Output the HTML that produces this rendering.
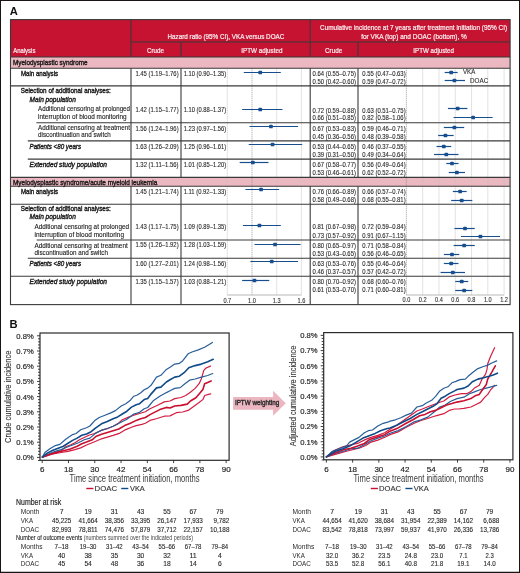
<!DOCTYPE html>
<html><head><meta charset="utf-8"><style>
html,body{margin:0;padding:0;background:#fff;}
svg{display:block;font-family:"Liberation Sans", sans-serif;will-change:transform;}
</style></head><body>
<svg width="520" height="573" viewBox="0 0 520 573">
<rect x="0.00" y="0.00" width="520.00" height="573.00" fill="#fff"/>
<line x1="0.50" y1="0.00" x2="0.50" y2="573.00" stroke="#1a1515" stroke-width="1"/>
<line x1="0.00" y1="0.50" x2="520.00" y2="0.50" stroke="#1a1515" stroke-width="1"/>
<line x1="519.50" y1="0.00" x2="519.50" y2="573.00" stroke="#1a1515" stroke-width="1"/>
<line x1="0.00" y1="572.50" x2="520.00" y2="572.50" stroke="#1a1515" stroke-width="1.4"/>
<text x="9.80" y="14.70" font-size="11.2" fill="#111" font-weight="bold">A</text>
<text x="9.40" y="328.00" font-size="11.2" fill="#111" font-weight="bold">B</text>
<rect x="10.50" y="19.60" width="499.60" height="37.40" fill="#c51331"/>
<rect x="10.50" y="57.00" width="499.60" height="11.30" fill="#ebb7c0"/>
<rect x="10.50" y="177.40" width="499.60" height="8.90" fill="#ebb7c0"/>
<line x1="227.31" y1="68.30" x2="227.31" y2="295.00" stroke="#c4c4c4" stroke-width="0.8" stroke-dasharray="1.2,0.8"/>
<line x1="276.69" y1="68.30" x2="276.69" y2="295.00" stroke="#c4c4c4" stroke-width="0.8" stroke-dasharray="1.2,0.8"/>
<line x1="301.38" y1="68.30" x2="301.38" y2="295.00" stroke="#c4c4c4" stroke-width="0.8" stroke-dasharray="1.2,0.8"/>
<line x1="252.00" y1="68.30" x2="252.00" y2="295.00" stroke="#8a8a8a" stroke-width="0.8" stroke-dasharray="1,1"/>
<line x1="422.68" y1="68.30" x2="422.68" y2="295.00" stroke="#c4c4c4" stroke-width="0.8" stroke-dasharray="1.2,0.8"/>
<line x1="438.96" y1="68.30" x2="438.96" y2="295.00" stroke="#c4c4c4" stroke-width="0.8" stroke-dasharray="1.2,0.8"/>
<line x1="455.24" y1="68.30" x2="455.24" y2="295.00" stroke="#c4c4c4" stroke-width="0.8" stroke-dasharray="1.2,0.8"/>
<line x1="471.52" y1="68.30" x2="471.52" y2="295.00" stroke="#c4c4c4" stroke-width="0.8" stroke-dasharray="1.2,0.8"/>
<line x1="487.80" y1="68.30" x2="487.80" y2="295.00" stroke="#c4c4c4" stroke-width="0.8" stroke-dasharray="1.2,0.8"/>
<line x1="504.08" y1="68.30" x2="504.08" y2="295.00" stroke="#c4c4c4" stroke-width="0.8" stroke-dasharray="1.2,0.8"/>
<line x1="406.40" y1="68.30" x2="406.40" y2="295.00" stroke="#8a8a8a" stroke-width="0.8" stroke-dasharray="1,1"/>
<line x1="227.31" y1="295.00" x2="301.38" y2="295.00" stroke="#b0b0b0" stroke-width="0.9"/>
<line x1="406.40" y1="295.00" x2="504.08" y2="295.00" stroke="#b0b0b0" stroke-width="0.9"/>
<text x="227.31" y="302.60" font-size="6.8" fill="#333" stroke="#333" stroke-width="0.12" text-anchor="middle" textLength="7.80" lengthAdjust="spacingAndGlyphs">0.7</text>
<text x="252.00" y="302.60" font-size="6.8" fill="#333" stroke="#333" stroke-width="0.12" text-anchor="middle" textLength="7.80" lengthAdjust="spacingAndGlyphs">1.0</text>
<text x="276.69" y="302.60" font-size="6.8" fill="#333" stroke="#333" stroke-width="0.12" text-anchor="middle" textLength="7.80" lengthAdjust="spacingAndGlyphs">1.3</text>
<text x="301.38" y="302.60" font-size="6.8" fill="#333" stroke="#333" stroke-width="0.12" text-anchor="middle" textLength="7.80" lengthAdjust="spacingAndGlyphs">1.6</text>
<text x="406.40" y="302.40" font-size="6.8" fill="#333" stroke="#333" stroke-width="0.12" text-anchor="middle" textLength="7.80" lengthAdjust="spacingAndGlyphs">0.0</text>
<text x="422.68" y="302.40" font-size="6.8" fill="#333" stroke="#333" stroke-width="0.12" text-anchor="middle" textLength="7.80" lengthAdjust="spacingAndGlyphs">0.2</text>
<text x="438.96" y="302.40" font-size="6.8" fill="#333" stroke="#333" stroke-width="0.12" text-anchor="middle" textLength="7.80" lengthAdjust="spacingAndGlyphs">0.4</text>
<text x="455.24" y="302.40" font-size="6.8" fill="#333" stroke="#333" stroke-width="0.12" text-anchor="middle" textLength="7.80" lengthAdjust="spacingAndGlyphs">0.6</text>
<text x="471.52" y="302.40" font-size="6.8" fill="#333" stroke="#333" stroke-width="0.12" text-anchor="middle" textLength="7.80" lengthAdjust="spacingAndGlyphs">0.8</text>
<text x="487.80" y="302.40" font-size="6.8" fill="#333" stroke="#333" stroke-width="0.12" text-anchor="middle" textLength="7.80" lengthAdjust="spacingAndGlyphs">1.0</text>
<text x="504.08" y="302.40" font-size="6.8" fill="#333" stroke="#333" stroke-width="0.12" text-anchor="middle" textLength="7.80" lengthAdjust="spacingAndGlyphs">1.2</text>
<line x1="131.00" y1="19.60" x2="131.00" y2="57.00" stroke="#3a3a3a" stroke-width="1.1"/>
<line x1="310.20" y1="19.60" x2="310.20" y2="57.00" stroke="#3a3a3a" stroke-width="1.1"/>
<line x1="131.00" y1="42.00" x2="510.10" y2="42.00" stroke="#3a3a3a" stroke-width="1.1"/>
<line x1="181.00" y1="42.00" x2="181.00" y2="57.00" stroke="#3a3a3a" stroke-width="1.1"/>
<line x1="358.00" y1="42.00" x2="358.00" y2="57.00" stroke="#3a3a3a" stroke-width="1.1"/>
<line x1="10.50" y1="57.00" x2="510.10" y2="57.00" stroke="#3a3a3a" stroke-width="1.1"/>
<line x1="10.50" y1="68.30" x2="510.10" y2="68.30" stroke="#3a3a3a" stroke-width="1.1"/>
<line x1="10.50" y1="177.40" x2="510.10" y2="177.40" stroke="#3a3a3a" stroke-width="1.1"/>
<line x1="10.50" y1="186.30" x2="510.10" y2="186.30" stroke="#3a3a3a" stroke-width="1.1"/>
<line x1="131.00" y1="68.30" x2="131.00" y2="177.40" stroke="#3a3a3a" stroke-width="1.1"/>
<line x1="131.00" y1="186.30" x2="131.00" y2="304.60" stroke="#3a3a3a" stroke-width="1.1"/>
<line x1="181.00" y1="68.30" x2="181.00" y2="177.40" stroke="#3a3a3a" stroke-width="1.1"/>
<line x1="181.00" y1="186.30" x2="181.00" y2="304.60" stroke="#3a3a3a" stroke-width="1.1"/>
<line x1="310.20" y1="68.30" x2="310.20" y2="177.40" stroke="#3a3a3a" stroke-width="1.1"/>
<line x1="310.20" y1="186.30" x2="310.20" y2="304.60" stroke="#3a3a3a" stroke-width="1.1"/>
<line x1="358.00" y1="68.30" x2="358.00" y2="177.40" stroke="#3a3a3a" stroke-width="1.1"/>
<line x1="358.00" y1="186.30" x2="358.00" y2="304.60" stroke="#3a3a3a" stroke-width="1.1"/>
<line x1="10.50" y1="85.90" x2="510.10" y2="85.90" stroke="#3a3a3a" stroke-width="1.1"/>
<line x1="36.40" y1="122.70" x2="510.10" y2="122.70" stroke="#3a3a3a" stroke-width="1.1"/>
<line x1="27.80" y1="140.90" x2="510.10" y2="140.90" stroke="#3a3a3a" stroke-width="1.1"/>
<line x1="27.80" y1="159.10" x2="510.10" y2="159.10" stroke="#3a3a3a" stroke-width="1.1"/>
<line x1="10.50" y1="204.30" x2="510.10" y2="204.30" stroke="#3a3a3a" stroke-width="1.1"/>
<line x1="36.70" y1="240.00" x2="510.10" y2="240.00" stroke="#3a3a3a" stroke-width="1.1"/>
<line x1="27.80" y1="258.30" x2="510.10" y2="258.30" stroke="#3a3a3a" stroke-width="1.1"/>
<line x1="10.50" y1="276.30" x2="510.10" y2="276.30" stroke="#3a3a3a" stroke-width="1.1"/>
<rect x="10.50" y="19.60" width="499.60" height="285.00" fill="none" stroke="#3a3a3a" stroke-width="1.1"/>
<text x="13.20" y="52.60" font-size="7.5" fill="#fbeef0" stroke="#fbeef0" stroke-width="0.22" textLength="22.20" lengthAdjust="spacingAndGlyphs">Analysis</text>
<text x="167.50" y="38.70" font-size="7.5" fill="#fbeef0" stroke="#fbeef0" stroke-width="0.22" textLength="116.80" lengthAdjust="spacingAndGlyphs">Hazard ratio (95% CI), VKA versus DOAC</text>
<text x="147.00" y="52.70" font-size="7.5" fill="#fbeef0" stroke="#fbeef0" stroke-width="0.22" textLength="17.00" lengthAdjust="spacingAndGlyphs">Crude</text>
<text x="241.30" y="52.70" font-size="7.5" fill="#fbeef0" stroke="#fbeef0" stroke-width="0.22" textLength="41.10" lengthAdjust="spacingAndGlyphs">IPTW adjusted</text>
<text x="320.00" y="29.70" font-size="7.5" fill="#fbeef0" stroke="#fbeef0" stroke-width="0.22" textLength="187.10" lengthAdjust="spacingAndGlyphs">Cumulative incidence at 7 years after treatment initiation (95% CI)</text>
<text x="361.20" y="38.90" font-size="7.5" fill="#fbeef0" stroke="#fbeef0" stroke-width="0.22" textLength="105.70" lengthAdjust="spacingAndGlyphs">for VKA (top) and DOAC (bottom), %</text>
<text x="325.00" y="52.70" font-size="7.5" fill="#fbeef0" stroke="#fbeef0" stroke-width="0.22" textLength="17.20" lengthAdjust="spacingAndGlyphs">Crude</text>
<text x="413.30" y="52.70" font-size="7.5" fill="#fbeef0" stroke="#fbeef0" stroke-width="0.22" textLength="40.60" lengthAdjust="spacingAndGlyphs">IPTW adjusted</text>
<text x="13.00" y="64.90" font-size="7.5" fill="#1a1a1a" stroke="#1a1a1a" stroke-width="0.4" textLength="74.50" lengthAdjust="spacingAndGlyphs">Myelodysplastic syndrome</text>
<text x="13.00" y="184.70" font-size="7.5" fill="#1a1a1a" stroke="#1a1a1a" stroke-width="0.4" textLength="144.30" lengthAdjust="spacingAndGlyphs">Myelodysplastic syndrome/acute myeloid leukemia</text>
<text x="20.90" y="76.20" font-size="7.5" fill="#1a1a1a" stroke="#1a1a1a" stroke-width="0.4" textLength="37.20" lengthAdjust="spacingAndGlyphs">Main analysis</text>
<text x="20.70" y="93.40" font-size="7.5" fill="#1a1a1a" stroke="#1a1a1a" stroke-width="0.4" textLength="90.10" lengthAdjust="spacingAndGlyphs">Selection of additional analyses:</text>
<text x="29.60" y="102.10" font-size="7.5" fill="#1a1a1a" stroke="#1a1a1a" stroke-width="0.4" font-style="italic" textLength="46.20" lengthAdjust="spacingAndGlyphs">Main population</text>
<text x="38.10" y="110.90" font-size="7.5" fill="#1a1a1a" stroke="#1a1a1a" stroke-width="0.12" textLength="91.90" lengthAdjust="spacingAndGlyphs">Additional censoring at prolonged</text>
<text x="38.10" y="119.20" font-size="7.5" fill="#1a1a1a" stroke="#1a1a1a" stroke-width="0.12" textLength="88.50" lengthAdjust="spacingAndGlyphs">interruption of blood monitoring</text>
<text x="38.10" y="129.60" font-size="7.5" fill="#1a1a1a" stroke="#1a1a1a" stroke-width="0.12" textLength="91.90" lengthAdjust="spacingAndGlyphs">Additional censoring at treatment</text>
<text x="38.10" y="136.60" font-size="7.5" fill="#1a1a1a" stroke="#1a1a1a" stroke-width="0.12" textLength="72.70" lengthAdjust="spacingAndGlyphs">discontinuation and switch</text>
<text x="29.50" y="148.80" font-size="7.5" fill="#1a1a1a" stroke="#1a1a1a" stroke-width="0.4" font-style="italic" textLength="51.50" lengthAdjust="spacingAndGlyphs">Patients &lt;80 years</text>
<text x="29.50" y="166.70" font-size="7.5" fill="#1a1a1a" stroke="#1a1a1a" stroke-width="0.4" font-style="italic" textLength="77.50" lengthAdjust="spacingAndGlyphs">Extended study population</text>
<text x="20.90" y="194.20" font-size="7.5" fill="#1a1a1a" stroke="#1a1a1a" stroke-width="0.4" textLength="37.20" lengthAdjust="spacingAndGlyphs">Main analysis</text>
<text x="20.70" y="211.00" font-size="7.5" fill="#1a1a1a" stroke="#1a1a1a" stroke-width="0.4" textLength="90.10" lengthAdjust="spacingAndGlyphs">Selection of additional analyses:</text>
<text x="29.60" y="219.10" font-size="7.5" fill="#1a1a1a" stroke="#1a1a1a" stroke-width="0.4" font-style="italic" textLength="46.20" lengthAdjust="spacingAndGlyphs">Main population</text>
<text x="34.50" y="229.00" font-size="7.5" fill="#1a1a1a" stroke="#1a1a1a" stroke-width="0.12" textLength="94.50" lengthAdjust="spacingAndGlyphs">Additional censoring at prolonged</text>
<text x="34.50" y="237.00" font-size="7.5" fill="#1a1a1a" stroke="#1a1a1a" stroke-width="0.12" textLength="89.50" lengthAdjust="spacingAndGlyphs">interruption of blood monitoring</text>
<text x="34.50" y="247.80" font-size="7.5" fill="#1a1a1a" stroke="#1a1a1a" stroke-width="0.12" textLength="93.20" lengthAdjust="spacingAndGlyphs">Additional censoring at treatment</text>
<text x="34.50" y="254.90" font-size="7.5" fill="#1a1a1a" stroke="#1a1a1a" stroke-width="0.12" textLength="73.40" lengthAdjust="spacingAndGlyphs">discontinuation and switch</text>
<text x="29.50" y="265.60" font-size="7.5" fill="#1a1a1a" stroke="#1a1a1a" stroke-width="0.4" font-style="italic" textLength="51.50" lengthAdjust="spacingAndGlyphs">Patients &lt;80 years</text>
<text x="29.50" y="284.00" font-size="7.5" fill="#1a1a1a" stroke="#1a1a1a" stroke-width="0.4" font-style="italic" textLength="77.50" lengthAdjust="spacingAndGlyphs">Extended study population</text>
<text x="135.40" y="76.40" font-size="7.5" fill="#2a2a2a" stroke="#2a2a2a" stroke-width="0.12" textLength="43.20" lengthAdjust="spacingAndGlyphs">1.45 (1.19–1.76)</text>
<text x="183.70" y="76.40" font-size="7.5" fill="#2a2a2a" stroke="#2a2a2a" stroke-width="0.12" textLength="42.40" lengthAdjust="spacingAndGlyphs">1.10 (0.90–1.35)</text>
<text x="312.60" y="75.80" font-size="7.5" fill="#2a2a2a" stroke="#2a2a2a" stroke-width="0.12" textLength="43.30" lengthAdjust="spacingAndGlyphs">0.64 (0.55–0.75)</text>
<text x="312.60" y="83.80" font-size="7.5" fill="#2a2a2a" stroke="#2a2a2a" stroke-width="0.12" textLength="43.30" lengthAdjust="spacingAndGlyphs">0.50 (0.42–0.60)</text>
<text x="362.30" y="75.80" font-size="7.5" fill="#2a2a2a" stroke="#2a2a2a" stroke-width="0.12" textLength="43.30" lengthAdjust="spacingAndGlyphs">0.55 (0.47–0.63)</text>
<text x="362.30" y="83.80" font-size="7.5" fill="#2a2a2a" stroke="#2a2a2a" stroke-width="0.12" textLength="43.30" lengthAdjust="spacingAndGlyphs">0.59 (0.47–0.72)</text>
<line x1="243.77" y1="72.50" x2="280.81" y2="72.50" stroke="#174f8e" stroke-width="1.2"/>
<rect x="258.38" y="70.65" width="3.70" height="3.70" fill="#174f8e" rx="0.9"/>
<line x1="444.66" y1="72.50" x2="457.68" y2="72.50" stroke="#174f8e" stroke-width="1.2"/>
<rect x="449.32" y="70.65" width="3.70" height="3.70" fill="#174f8e" rx="0.9"/>
<line x1="444.66" y1="80.50" x2="465.01" y2="80.50" stroke="#174f8e" stroke-width="1.2"/>
<rect x="452.58" y="78.65" width="3.70" height="3.70" fill="#174f8e" rx="0.9"/>
<text x="135.40" y="111.70" font-size="7.5" fill="#2a2a2a" stroke="#2a2a2a" stroke-width="0.12" textLength="43.20" lengthAdjust="spacingAndGlyphs">1.42 (1.15–1.77)</text>
<text x="183.70" y="111.70" font-size="7.5" fill="#2a2a2a" stroke="#2a2a2a" stroke-width="0.12" textLength="42.40" lengthAdjust="spacingAndGlyphs">1.10 (0.88–1.37)</text>
<text x="312.60" y="112.60" font-size="7.5" fill="#2a2a2a" stroke="#2a2a2a" stroke-width="0.12" textLength="43.30" lengthAdjust="spacingAndGlyphs">0.72 (0.59–0.88)</text>
<text x="312.60" y="120.20" font-size="7.5" fill="#2a2a2a" stroke="#2a2a2a" stroke-width="0.12" textLength="43.30" lengthAdjust="spacingAndGlyphs">0.66 (0.51–0.85)</text>
<text x="362.30" y="112.60" font-size="7.5" fill="#2a2a2a" stroke="#2a2a2a" stroke-width="0.12" textLength="43.30" lengthAdjust="spacingAndGlyphs">0.63 (0.51–0.75)</text>
<text x="362.30" y="120.20" font-size="7.5" fill="#2a2a2a" stroke="#2a2a2a" stroke-width="0.12" textLength="43.30" lengthAdjust="spacingAndGlyphs">0.82 (0.58–1.06)</text>
<line x1="242.12" y1="109.50" x2="282.45" y2="109.50" stroke="#174f8e" stroke-width="1.2"/>
<rect x="258.38" y="107.65" width="3.70" height="3.70" fill="#174f8e" rx="0.9"/>
<line x1="447.91" y1="108.50" x2="467.45" y2="108.50" stroke="#174f8e" stroke-width="1.2"/>
<rect x="455.83" y="106.65" width="3.70" height="3.70" fill="#174f8e" rx="0.9"/>
<line x1="453.61" y1="117.50" x2="492.68" y2="117.50" stroke="#174f8e" stroke-width="1.2"/>
<rect x="471.30" y="115.65" width="3.70" height="3.70" fill="#174f8e" rx="0.9"/>
<text x="135.40" y="130.90" font-size="7.5" fill="#2a2a2a" stroke="#2a2a2a" stroke-width="0.12" textLength="43.20" lengthAdjust="spacingAndGlyphs">1.56 (1.24–1.96)</text>
<text x="183.70" y="130.90" font-size="7.5" fill="#2a2a2a" stroke="#2a2a2a" stroke-width="0.12" textLength="42.40" lengthAdjust="spacingAndGlyphs">1.23 (0.97–1.56)</text>
<text x="312.60" y="130.90" font-size="7.5" fill="#2a2a2a" stroke="#2a2a2a" stroke-width="0.12" textLength="43.30" lengthAdjust="spacingAndGlyphs">0.67 (0.53–0.83)</text>
<text x="312.60" y="138.70" font-size="7.5" fill="#2a2a2a" stroke="#2a2a2a" stroke-width="0.12" textLength="43.30" lengthAdjust="spacingAndGlyphs">0.45 (0.36–0.56)</text>
<text x="362.30" y="130.90" font-size="7.5" fill="#2a2a2a" stroke="#2a2a2a" stroke-width="0.12" textLength="43.30" lengthAdjust="spacingAndGlyphs">0.59 (0.46–0.71)</text>
<text x="362.30" y="138.70" font-size="7.5" fill="#2a2a2a" stroke="#2a2a2a" stroke-width="0.12" textLength="43.30" lengthAdjust="spacingAndGlyphs">0.48 (0.39–0.58)</text>
<line x1="249.53" y1="126.50" x2="298.09" y2="126.50" stroke="#174f8e" stroke-width="1.2"/>
<rect x="269.08" y="124.65" width="3.70" height="3.70" fill="#174f8e" rx="0.9"/>
<line x1="443.84" y1="127.50" x2="464.19" y2="127.50" stroke="#174f8e" stroke-width="1.2"/>
<rect x="452.58" y="125.65" width="3.70" height="3.70" fill="#174f8e" rx="0.9"/>
<line x1="438.15" y1="135.50" x2="453.61" y2="135.50" stroke="#174f8e" stroke-width="1.2"/>
<rect x="443.62" y="133.65" width="3.70" height="3.70" fill="#174f8e" rx="0.9"/>
<text x="135.40" y="148.80" font-size="7.5" fill="#2a2a2a" stroke="#2a2a2a" stroke-width="0.12" textLength="43.20" lengthAdjust="spacingAndGlyphs">1.63 (1.26–2.09)</text>
<text x="183.70" y="148.80" font-size="7.5" fill="#2a2a2a" stroke="#2a2a2a" stroke-width="0.12" textLength="42.40" lengthAdjust="spacingAndGlyphs">1.25 (0.96–1.61)</text>
<text x="312.60" y="148.80" font-size="7.5" fill="#2a2a2a" stroke="#2a2a2a" stroke-width="0.12" textLength="43.30" lengthAdjust="spacingAndGlyphs">0.53 (0.44–0.65)</text>
<text x="312.60" y="156.70" font-size="7.5" fill="#2a2a2a" stroke="#2a2a2a" stroke-width="0.12" textLength="43.30" lengthAdjust="spacingAndGlyphs">0.39 (0.31–0.50)</text>
<text x="362.30" y="148.80" font-size="7.5" fill="#2a2a2a" stroke="#2a2a2a" stroke-width="0.12" textLength="43.30" lengthAdjust="spacingAndGlyphs">0.46 (0.37–0.55)</text>
<text x="362.30" y="156.70" font-size="7.5" fill="#2a2a2a" stroke="#2a2a2a" stroke-width="0.12" textLength="43.30" lengthAdjust="spacingAndGlyphs">0.49 (0.34–0.64)</text>
<line x1="248.71" y1="144.50" x2="302.20" y2="144.50" stroke="#174f8e" stroke-width="1.2"/>
<rect x="270.72" y="142.65" width="3.70" height="3.70" fill="#174f8e" rx="0.9"/>
<line x1="436.52" y1="146.50" x2="451.17" y2="146.50" stroke="#174f8e" stroke-width="1.2"/>
<rect x="441.99" y="144.65" width="3.70" height="3.70" fill="#174f8e" rx="0.9"/>
<line x1="434.08" y1="154.50" x2="458.50" y2="154.50" stroke="#174f8e" stroke-width="1.2"/>
<rect x="444.44" y="152.65" width="3.70" height="3.70" fill="#174f8e" rx="0.9"/>
<text x="135.40" y="167.30" font-size="7.5" fill="#2a2a2a" stroke="#2a2a2a" stroke-width="0.12" textLength="43.20" lengthAdjust="spacingAndGlyphs">1.32 (1.11–1.56)</text>
<text x="183.70" y="167.30" font-size="7.5" fill="#2a2a2a" stroke="#2a2a2a" stroke-width="0.12" textLength="42.40" lengthAdjust="spacingAndGlyphs">1.01 (0.85–1.20)</text>
<text x="312.60" y="166.80" font-size="7.5" fill="#2a2a2a" stroke="#2a2a2a" stroke-width="0.12" textLength="43.30" lengthAdjust="spacingAndGlyphs">0.67 (0.58–0.77)</text>
<text x="312.60" y="174.70" font-size="7.5" fill="#2a2a2a" stroke="#2a2a2a" stroke-width="0.12" textLength="43.30" lengthAdjust="spacingAndGlyphs">0.53 (0.46–0.61)</text>
<text x="362.30" y="166.80" font-size="7.5" fill="#2a2a2a" stroke="#2a2a2a" stroke-width="0.12" textLength="43.30" lengthAdjust="spacingAndGlyphs">0.56 (0.49–0.64)</text>
<text x="362.30" y="174.70" font-size="7.5" fill="#2a2a2a" stroke="#2a2a2a" stroke-width="0.12" textLength="43.30" lengthAdjust="spacingAndGlyphs">0.62 (0.52–0.72)</text>
<line x1="239.66" y1="162.50" x2="268.46" y2="162.50" stroke="#174f8e" stroke-width="1.2"/>
<rect x="250.97" y="160.65" width="3.70" height="3.70" fill="#174f8e" rx="0.9"/>
<line x1="446.29" y1="163.50" x2="458.50" y2="163.50" stroke="#174f8e" stroke-width="1.2"/>
<rect x="450.13" y="161.65" width="3.70" height="3.70" fill="#174f8e" rx="0.9"/>
<line x1="448.73" y1="172.50" x2="465.01" y2="172.50" stroke="#174f8e" stroke-width="1.2"/>
<rect x="455.02" y="170.65" width="3.70" height="3.70" fill="#174f8e" rx="0.9"/>
<text x="135.40" y="194.40" font-size="7.5" fill="#2a2a2a" stroke="#2a2a2a" stroke-width="0.12" textLength="43.20" lengthAdjust="spacingAndGlyphs">1.45 (1.21–1.74)</text>
<text x="183.70" y="194.40" font-size="7.5" fill="#2a2a2a" stroke="#2a2a2a" stroke-width="0.12" textLength="42.40" lengthAdjust="spacingAndGlyphs">1.11 (0.92–1.33)</text>
<text x="312.60" y="193.80" font-size="7.5" fill="#2a2a2a" stroke="#2a2a2a" stroke-width="0.12" textLength="43.30" lengthAdjust="spacingAndGlyphs">0.76 (0.66–0.89)</text>
<text x="312.60" y="201.80" font-size="7.5" fill="#2a2a2a" stroke="#2a2a2a" stroke-width="0.12" textLength="43.30" lengthAdjust="spacingAndGlyphs">0.58 (0.49–0.68)</text>
<text x="362.30" y="193.80" font-size="7.5" fill="#2a2a2a" stroke="#2a2a2a" stroke-width="0.12" textLength="43.30" lengthAdjust="spacingAndGlyphs">0.66 (0.57–0.74)</text>
<text x="362.30" y="201.80" font-size="7.5" fill="#2a2a2a" stroke="#2a2a2a" stroke-width="0.12" textLength="43.30" lengthAdjust="spacingAndGlyphs">0.68 (0.55–0.81)</text>
<line x1="245.42" y1="189.50" x2="279.16" y2="189.50" stroke="#174f8e" stroke-width="1.2"/>
<rect x="259.20" y="187.65" width="3.70" height="3.70" fill="#174f8e" rx="0.9"/>
<line x1="452.80" y1="191.50" x2="466.64" y2="191.50" stroke="#174f8e" stroke-width="1.2"/>
<rect x="458.27" y="189.65" width="3.70" height="3.70" fill="#174f8e" rx="0.9"/>
<line x1="451.17" y1="200.50" x2="472.33" y2="200.50" stroke="#174f8e" stroke-width="1.2"/>
<rect x="459.90" y="198.65" width="3.70" height="3.70" fill="#174f8e" rx="0.9"/>
<text x="135.40" y="229.00" font-size="7.5" fill="#2a2a2a" stroke="#2a2a2a" stroke-width="0.12" textLength="43.20" lengthAdjust="spacingAndGlyphs">1.43 (1.17–1.75)</text>
<text x="183.70" y="229.00" font-size="7.5" fill="#2a2a2a" stroke="#2a2a2a" stroke-width="0.12" textLength="42.40" lengthAdjust="spacingAndGlyphs">1.09 (0.89–1.35)</text>
<text x="312.60" y="229.20" font-size="7.5" fill="#2a2a2a" stroke="#2a2a2a" stroke-width="0.12" textLength="43.30" lengthAdjust="spacingAndGlyphs">0.81 (0.67–0.98)</text>
<text x="312.60" y="237.80" font-size="7.5" fill="#2a2a2a" stroke="#2a2a2a" stroke-width="0.12" textLength="43.30" lengthAdjust="spacingAndGlyphs">0.73 (0.57–0.92)</text>
<text x="362.30" y="229.20" font-size="7.5" fill="#2a2a2a" stroke="#2a2a2a" stroke-width="0.12" textLength="43.30" lengthAdjust="spacingAndGlyphs">0.72 (0.59–0.84)</text>
<text x="362.30" y="237.80" font-size="7.5" fill="#2a2a2a" stroke="#2a2a2a" stroke-width="0.12" textLength="43.30" lengthAdjust="spacingAndGlyphs">0.91 (0.67–1.15)</text>
<line x1="242.95" y1="225.50" x2="280.81" y2="225.50" stroke="#174f8e" stroke-width="1.2"/>
<rect x="257.56" y="223.65" width="3.70" height="3.70" fill="#174f8e" rx="0.9"/>
<line x1="454.43" y1="228.50" x2="474.78" y2="228.50" stroke="#174f8e" stroke-width="1.2"/>
<rect x="463.16" y="226.65" width="3.70" height="3.70" fill="#174f8e" rx="0.9"/>
<line x1="460.94" y1="236.50" x2="500.01" y2="236.50" stroke="#174f8e" stroke-width="1.2"/>
<rect x="478.62" y="234.65" width="3.70" height="3.70" fill="#174f8e" rx="0.9"/>
<text x="135.40" y="247.30" font-size="7.5" fill="#2a2a2a" stroke="#2a2a2a" stroke-width="0.12" textLength="43.20" lengthAdjust="spacingAndGlyphs">1.55 (1.26–1.92)</text>
<text x="183.70" y="247.30" font-size="7.5" fill="#2a2a2a" stroke="#2a2a2a" stroke-width="0.12" textLength="42.40" lengthAdjust="spacingAndGlyphs">1.28 (1.03–1.59)</text>
<text x="312.60" y="247.50" font-size="7.5" fill="#2a2a2a" stroke="#2a2a2a" stroke-width="0.12" textLength="43.30" lengthAdjust="spacingAndGlyphs">0.80 (0.65–0.97)</text>
<text x="312.60" y="256.20" font-size="7.5" fill="#2a2a2a" stroke="#2a2a2a" stroke-width="0.12" textLength="43.30" lengthAdjust="spacingAndGlyphs">0.53 (0.43–0.65)</text>
<text x="362.30" y="247.50" font-size="7.5" fill="#2a2a2a" stroke="#2a2a2a" stroke-width="0.12" textLength="43.30" lengthAdjust="spacingAndGlyphs">0.71 (0.58–0.84)</text>
<text x="362.30" y="256.20" font-size="7.5" fill="#2a2a2a" stroke="#2a2a2a" stroke-width="0.12" textLength="43.30" lengthAdjust="spacingAndGlyphs">0.56 (0.46–0.65)</text>
<line x1="254.47" y1="244.50" x2="300.56" y2="244.50" stroke="#174f8e" stroke-width="1.2"/>
<rect x="273.19" y="242.65" width="3.70" height="3.70" fill="#174f8e" rx="0.9"/>
<line x1="453.61" y1="245.50" x2="474.78" y2="245.50" stroke="#174f8e" stroke-width="1.2"/>
<rect x="462.34" y="243.65" width="3.70" height="3.70" fill="#174f8e" rx="0.9"/>
<line x1="443.84" y1="254.50" x2="459.31" y2="254.50" stroke="#174f8e" stroke-width="1.2"/>
<rect x="450.13" y="252.65" width="3.70" height="3.70" fill="#174f8e" rx="0.9"/>
<text x="135.40" y="265.70" font-size="7.5" fill="#2a2a2a" stroke="#2a2a2a" stroke-width="0.12" textLength="43.20" lengthAdjust="spacingAndGlyphs">1.60 (1.27–2.01)</text>
<text x="183.70" y="265.70" font-size="7.5" fill="#2a2a2a" stroke="#2a2a2a" stroke-width="0.12" textLength="42.40" lengthAdjust="spacingAndGlyphs">1.24 (0.98–1.56)</text>
<text x="312.60" y="265.70" font-size="7.5" fill="#2a2a2a" stroke="#2a2a2a" stroke-width="0.12" textLength="43.30" lengthAdjust="spacingAndGlyphs">0.63 (0.53–0.76)</text>
<text x="312.60" y="274.40" font-size="7.5" fill="#2a2a2a" stroke="#2a2a2a" stroke-width="0.12" textLength="43.30" lengthAdjust="spacingAndGlyphs">0.46 (0.37–0.57)</text>
<text x="362.30" y="265.70" font-size="7.5" fill="#2a2a2a" stroke="#2a2a2a" stroke-width="0.12" textLength="43.30" lengthAdjust="spacingAndGlyphs">0.55 (0.46–0.64)</text>
<text x="362.30" y="274.40" font-size="7.5" fill="#2a2a2a" stroke="#2a2a2a" stroke-width="0.12" textLength="43.30" lengthAdjust="spacingAndGlyphs">0.57 (0.42–0.72)</text>
<line x1="250.35" y1="261.50" x2="298.09" y2="261.50" stroke="#174f8e" stroke-width="1.2"/>
<rect x="269.90" y="259.65" width="3.70" height="3.70" fill="#174f8e" rx="0.9"/>
<line x1="443.84" y1="263.50" x2="458.50" y2="263.50" stroke="#174f8e" stroke-width="1.2"/>
<rect x="449.32" y="261.65" width="3.70" height="3.70" fill="#174f8e" rx="0.9"/>
<line x1="440.59" y1="272.50" x2="465.01" y2="272.50" stroke="#174f8e" stroke-width="1.2"/>
<rect x="450.95" y="270.65" width="3.70" height="3.70" fill="#174f8e" rx="0.9"/>
<text x="135.40" y="284.30" font-size="7.5" fill="#2a2a2a" stroke="#2a2a2a" stroke-width="0.12" textLength="43.20" lengthAdjust="spacingAndGlyphs">1.35 (1.15–1.57)</text>
<text x="183.70" y="284.30" font-size="7.5" fill="#2a2a2a" stroke="#2a2a2a" stroke-width="0.12" textLength="42.40" lengthAdjust="spacingAndGlyphs">1.03 (0.88–1.21)</text>
<text x="312.60" y="284.30" font-size="7.5" fill="#2a2a2a" stroke="#2a2a2a" stroke-width="0.12" textLength="43.30" lengthAdjust="spacingAndGlyphs">0.80 (0.70–0.92)</text>
<text x="312.60" y="292.10" font-size="7.5" fill="#2a2a2a" stroke="#2a2a2a" stroke-width="0.12" textLength="43.30" lengthAdjust="spacingAndGlyphs">0.61 (0.53–0.70)</text>
<text x="362.30" y="284.30" font-size="7.5" fill="#2a2a2a" stroke="#2a2a2a" stroke-width="0.12" textLength="43.30" lengthAdjust="spacingAndGlyphs">0.68 (0.60–0.76)</text>
<text x="362.30" y="292.10" font-size="7.5" fill="#2a2a2a" stroke="#2a2a2a" stroke-width="0.12" textLength="43.30" lengthAdjust="spacingAndGlyphs">0.71 (0.60–0.81)</text>
<line x1="242.12" y1="280.50" x2="269.28" y2="280.50" stroke="#174f8e" stroke-width="1.2"/>
<rect x="252.62" y="278.65" width="3.70" height="3.70" fill="#174f8e" rx="0.9"/>
<line x1="455.24" y1="281.50" x2="468.26" y2="281.50" stroke="#174f8e" stroke-width="1.2"/>
<rect x="459.90" y="279.65" width="3.70" height="3.70" fill="#174f8e" rx="0.9"/>
<line x1="455.24" y1="290.50" x2="472.33" y2="290.50" stroke="#174f8e" stroke-width="1.2"/>
<rect x="462.34" y="288.65" width="3.70" height="3.70" fill="#174f8e" rx="0.9"/>
<text x="463.00" y="74.40" font-size="6.3" fill="#333" stroke="#333" stroke-width="0.12" textLength="12.20" lengthAdjust="spacingAndGlyphs">VKA</text>
<text x="470.10" y="82.80" font-size="6.3" fill="#333" stroke="#333" stroke-width="0.12" textLength="18.10" lengthAdjust="spacingAndGlyphs">DOAC</text>
<rect x="40.00" y="333.00" width="189.10" height="127.30" fill="none" stroke="#2a2a2a" stroke-width="1.2"/>
<line x1="38.00" y1="460.44" x2="40.00" y2="460.44" stroke="#2a2a2a" stroke-width="0.9"/>
<line x1="37.00" y1="457.40" x2="40.00" y2="457.40" stroke="#2a2a2a" stroke-width="0.9"/>
<text x="33.70" y="460.30" font-size="8.0" fill="#2a2a2a" stroke="#2a2a2a" stroke-width="0.2" text-anchor="end" textLength="17.40" lengthAdjust="spacingAndGlyphs">0.0%</text>
<line x1="38.00" y1="454.36" x2="40.00" y2="454.36" stroke="#2a2a2a" stroke-width="0.9"/>
<line x1="38.00" y1="451.32" x2="40.00" y2="451.32" stroke="#2a2a2a" stroke-width="0.9"/>
<line x1="38.00" y1="448.28" x2="40.00" y2="448.28" stroke="#2a2a2a" stroke-width="0.9"/>
<line x1="38.00" y1="445.24" x2="40.00" y2="445.24" stroke="#2a2a2a" stroke-width="0.9"/>
<line x1="37.00" y1="442.20" x2="40.00" y2="442.20" stroke="#2a2a2a" stroke-width="0.9"/>
<text x="33.70" y="445.10" font-size="8.0" fill="#2a2a2a" stroke="#2a2a2a" stroke-width="0.2" text-anchor="end" textLength="17.40" lengthAdjust="spacingAndGlyphs">0.1%</text>
<line x1="38.00" y1="439.16" x2="40.00" y2="439.16" stroke="#2a2a2a" stroke-width="0.9"/>
<line x1="38.00" y1="436.12" x2="40.00" y2="436.12" stroke="#2a2a2a" stroke-width="0.9"/>
<line x1="38.00" y1="433.08" x2="40.00" y2="433.08" stroke="#2a2a2a" stroke-width="0.9"/>
<line x1="38.00" y1="430.04" x2="40.00" y2="430.04" stroke="#2a2a2a" stroke-width="0.9"/>
<line x1="37.00" y1="427.00" x2="40.00" y2="427.00" stroke="#2a2a2a" stroke-width="0.9"/>
<text x="33.70" y="429.90" font-size="8.0" fill="#2a2a2a" stroke="#2a2a2a" stroke-width="0.2" text-anchor="end" textLength="17.40" lengthAdjust="spacingAndGlyphs">0.2%</text>
<line x1="38.00" y1="423.96" x2="40.00" y2="423.96" stroke="#2a2a2a" stroke-width="0.9"/>
<line x1="38.00" y1="420.92" x2="40.00" y2="420.92" stroke="#2a2a2a" stroke-width="0.9"/>
<line x1="38.00" y1="417.88" x2="40.00" y2="417.88" stroke="#2a2a2a" stroke-width="0.9"/>
<line x1="38.00" y1="414.84" x2="40.00" y2="414.84" stroke="#2a2a2a" stroke-width="0.9"/>
<line x1="37.00" y1="411.80" x2="40.00" y2="411.80" stroke="#2a2a2a" stroke-width="0.9"/>
<text x="33.70" y="414.70" font-size="8.0" fill="#2a2a2a" stroke="#2a2a2a" stroke-width="0.2" text-anchor="end" textLength="17.40" lengthAdjust="spacingAndGlyphs">0.3%</text>
<line x1="38.00" y1="408.76" x2="40.00" y2="408.76" stroke="#2a2a2a" stroke-width="0.9"/>
<line x1="38.00" y1="405.72" x2="40.00" y2="405.72" stroke="#2a2a2a" stroke-width="0.9"/>
<line x1="38.00" y1="402.68" x2="40.00" y2="402.68" stroke="#2a2a2a" stroke-width="0.9"/>
<line x1="38.00" y1="399.64" x2="40.00" y2="399.64" stroke="#2a2a2a" stroke-width="0.9"/>
<line x1="37.00" y1="396.60" x2="40.00" y2="396.60" stroke="#2a2a2a" stroke-width="0.9"/>
<text x="33.70" y="399.50" font-size="8.0" fill="#2a2a2a" stroke="#2a2a2a" stroke-width="0.2" text-anchor="end" textLength="17.40" lengthAdjust="spacingAndGlyphs">0.4%</text>
<line x1="38.00" y1="393.56" x2="40.00" y2="393.56" stroke="#2a2a2a" stroke-width="0.9"/>
<line x1="38.00" y1="390.52" x2="40.00" y2="390.52" stroke="#2a2a2a" stroke-width="0.9"/>
<line x1="38.00" y1="387.48" x2="40.00" y2="387.48" stroke="#2a2a2a" stroke-width="0.9"/>
<line x1="38.00" y1="384.44" x2="40.00" y2="384.44" stroke="#2a2a2a" stroke-width="0.9"/>
<line x1="37.00" y1="381.40" x2="40.00" y2="381.40" stroke="#2a2a2a" stroke-width="0.9"/>
<text x="33.70" y="384.30" font-size="8.0" fill="#2a2a2a" stroke="#2a2a2a" stroke-width="0.2" text-anchor="end" textLength="17.40" lengthAdjust="spacingAndGlyphs">0.5%</text>
<line x1="38.00" y1="378.36" x2="40.00" y2="378.36" stroke="#2a2a2a" stroke-width="0.9"/>
<line x1="38.00" y1="375.32" x2="40.00" y2="375.32" stroke="#2a2a2a" stroke-width="0.9"/>
<line x1="38.00" y1="372.28" x2="40.00" y2="372.28" stroke="#2a2a2a" stroke-width="0.9"/>
<line x1="38.00" y1="369.24" x2="40.00" y2="369.24" stroke="#2a2a2a" stroke-width="0.9"/>
<line x1="37.00" y1="366.20" x2="40.00" y2="366.20" stroke="#2a2a2a" stroke-width="0.9"/>
<text x="33.70" y="369.10" font-size="8.0" fill="#2a2a2a" stroke="#2a2a2a" stroke-width="0.2" text-anchor="end" textLength="17.40" lengthAdjust="spacingAndGlyphs">0.6%</text>
<line x1="38.00" y1="363.16" x2="40.00" y2="363.16" stroke="#2a2a2a" stroke-width="0.9"/>
<line x1="38.00" y1="360.12" x2="40.00" y2="360.12" stroke="#2a2a2a" stroke-width="0.9"/>
<line x1="38.00" y1="357.08" x2="40.00" y2="357.08" stroke="#2a2a2a" stroke-width="0.9"/>
<line x1="38.00" y1="354.04" x2="40.00" y2="354.04" stroke="#2a2a2a" stroke-width="0.9"/>
<line x1="37.00" y1="351.00" x2="40.00" y2="351.00" stroke="#2a2a2a" stroke-width="0.9"/>
<text x="33.70" y="353.90" font-size="8.0" fill="#2a2a2a" stroke="#2a2a2a" stroke-width="0.2" text-anchor="end" textLength="17.40" lengthAdjust="spacingAndGlyphs">0.7%</text>
<line x1="38.00" y1="347.96" x2="40.00" y2="347.96" stroke="#2a2a2a" stroke-width="0.9"/>
<line x1="38.00" y1="344.92" x2="40.00" y2="344.92" stroke="#2a2a2a" stroke-width="0.9"/>
<line x1="38.00" y1="341.88" x2="40.00" y2="341.88" stroke="#2a2a2a" stroke-width="0.9"/>
<line x1="38.00" y1="338.84" x2="40.00" y2="338.84" stroke="#2a2a2a" stroke-width="0.9"/>
<line x1="37.00" y1="335.80" x2="40.00" y2="335.80" stroke="#2a2a2a" stroke-width="0.9"/>
<text x="33.70" y="338.70" font-size="8.0" fill="#2a2a2a" stroke="#2a2a2a" stroke-width="0.2" text-anchor="end" textLength="17.40" lengthAdjust="spacingAndGlyphs">0.8%</text>
<line x1="42.20" y1="460.30" x2="42.20" y2="463.10" stroke="#2a2a2a" stroke-width="0.9"/>
<text x="42.20" y="472.10" font-size="8.0" fill="#2a2a2a" stroke="#2a2a2a" stroke-width="0.2" text-anchor="middle">6</text>
<line x1="68.48" y1="460.30" x2="68.48" y2="463.10" stroke="#2a2a2a" stroke-width="0.9"/>
<text x="68.48" y="472.10" font-size="8.0" fill="#2a2a2a" stroke="#2a2a2a" stroke-width="0.2" text-anchor="middle">18</text>
<line x1="94.76" y1="460.30" x2="94.76" y2="463.10" stroke="#2a2a2a" stroke-width="0.9"/>
<text x="94.76" y="472.10" font-size="8.0" fill="#2a2a2a" stroke="#2a2a2a" stroke-width="0.2" text-anchor="middle">30</text>
<line x1="121.04" y1="460.30" x2="121.04" y2="463.10" stroke="#2a2a2a" stroke-width="0.9"/>
<text x="121.04" y="472.10" font-size="8.0" fill="#2a2a2a" stroke="#2a2a2a" stroke-width="0.2" text-anchor="middle">42</text>
<line x1="147.32" y1="460.30" x2="147.32" y2="463.10" stroke="#2a2a2a" stroke-width="0.9"/>
<text x="147.32" y="472.10" font-size="8.0" fill="#2a2a2a" stroke="#2a2a2a" stroke-width="0.2" text-anchor="middle">54</text>
<line x1="173.60" y1="460.30" x2="173.60" y2="463.10" stroke="#2a2a2a" stroke-width="0.9"/>
<text x="173.60" y="472.10" font-size="8.0" fill="#2a2a2a" stroke="#2a2a2a" stroke-width="0.2" text-anchor="middle">66</text>
<line x1="199.88" y1="460.30" x2="199.88" y2="463.10" stroke="#2a2a2a" stroke-width="0.9"/>
<text x="199.88" y="472.10" font-size="8.0" fill="#2a2a2a" stroke="#2a2a2a" stroke-width="0.2" text-anchor="middle">78</text>
<line x1="226.16" y1="460.30" x2="226.16" y2="463.10" stroke="#2a2a2a" stroke-width="0.9"/>
<text x="226.16" y="472.10" font-size="8.0" fill="#2a2a2a" stroke="#2a2a2a" stroke-width="0.2" text-anchor="middle">90</text>
<text transform="translate(11.30,396.80) rotate(-90)" x="0" y="0" font-size="9.8" fill="#333" stroke="#333" stroke-width="0.12" text-anchor="middle" textLength="92.50" lengthAdjust="spacingAndGlyphs">Crude cumulative incidence</text>
<rect x="323.70" y="332.60" width="189.20" height="127.20" fill="none" stroke="#2a2a2a" stroke-width="1.2"/>
<line x1="321.70" y1="459.94" x2="323.70" y2="459.94" stroke="#2a2a2a" stroke-width="0.9"/>
<line x1="320.70" y1="456.90" x2="323.70" y2="456.90" stroke="#2a2a2a" stroke-width="0.9"/>
<text x="317.60" y="459.80" font-size="8.0" fill="#2a2a2a" stroke="#2a2a2a" stroke-width="0.2" text-anchor="end" textLength="17.40" lengthAdjust="spacingAndGlyphs">0.0%</text>
<line x1="321.70" y1="453.86" x2="323.70" y2="453.86" stroke="#2a2a2a" stroke-width="0.9"/>
<line x1="321.70" y1="450.82" x2="323.70" y2="450.82" stroke="#2a2a2a" stroke-width="0.9"/>
<line x1="321.70" y1="447.79" x2="323.70" y2="447.79" stroke="#2a2a2a" stroke-width="0.9"/>
<line x1="321.70" y1="444.75" x2="323.70" y2="444.75" stroke="#2a2a2a" stroke-width="0.9"/>
<line x1="320.70" y1="441.71" x2="323.70" y2="441.71" stroke="#2a2a2a" stroke-width="0.9"/>
<text x="317.60" y="444.61" font-size="8.0" fill="#2a2a2a" stroke="#2a2a2a" stroke-width="0.2" text-anchor="end" textLength="17.40" lengthAdjust="spacingAndGlyphs">0.1%</text>
<line x1="321.70" y1="438.67" x2="323.70" y2="438.67" stroke="#2a2a2a" stroke-width="0.9"/>
<line x1="321.70" y1="435.63" x2="323.70" y2="435.63" stroke="#2a2a2a" stroke-width="0.9"/>
<line x1="321.70" y1="432.60" x2="323.70" y2="432.60" stroke="#2a2a2a" stroke-width="0.9"/>
<line x1="321.70" y1="429.56" x2="323.70" y2="429.56" stroke="#2a2a2a" stroke-width="0.9"/>
<line x1="320.70" y1="426.52" x2="323.70" y2="426.52" stroke="#2a2a2a" stroke-width="0.9"/>
<text x="317.60" y="429.42" font-size="8.0" fill="#2a2a2a" stroke="#2a2a2a" stroke-width="0.2" text-anchor="end" textLength="17.40" lengthAdjust="spacingAndGlyphs">0.2%</text>
<line x1="321.70" y1="423.48" x2="323.70" y2="423.48" stroke="#2a2a2a" stroke-width="0.9"/>
<line x1="321.70" y1="420.44" x2="323.70" y2="420.44" stroke="#2a2a2a" stroke-width="0.9"/>
<line x1="321.70" y1="417.41" x2="323.70" y2="417.41" stroke="#2a2a2a" stroke-width="0.9"/>
<line x1="321.70" y1="414.37" x2="323.70" y2="414.37" stroke="#2a2a2a" stroke-width="0.9"/>
<line x1="320.70" y1="411.33" x2="323.70" y2="411.33" stroke="#2a2a2a" stroke-width="0.9"/>
<text x="317.60" y="414.23" font-size="8.0" fill="#2a2a2a" stroke="#2a2a2a" stroke-width="0.2" text-anchor="end" textLength="17.40" lengthAdjust="spacingAndGlyphs">0.3%</text>
<line x1="321.70" y1="408.29" x2="323.70" y2="408.29" stroke="#2a2a2a" stroke-width="0.9"/>
<line x1="321.70" y1="405.25" x2="323.70" y2="405.25" stroke="#2a2a2a" stroke-width="0.9"/>
<line x1="321.70" y1="402.22" x2="323.70" y2="402.22" stroke="#2a2a2a" stroke-width="0.9"/>
<line x1="321.70" y1="399.18" x2="323.70" y2="399.18" stroke="#2a2a2a" stroke-width="0.9"/>
<line x1="320.70" y1="396.14" x2="323.70" y2="396.14" stroke="#2a2a2a" stroke-width="0.9"/>
<text x="317.60" y="399.04" font-size="8.0" fill="#2a2a2a" stroke="#2a2a2a" stroke-width="0.2" text-anchor="end" textLength="17.40" lengthAdjust="spacingAndGlyphs">0.4%</text>
<line x1="321.70" y1="393.10" x2="323.70" y2="393.10" stroke="#2a2a2a" stroke-width="0.9"/>
<line x1="321.70" y1="390.06" x2="323.70" y2="390.06" stroke="#2a2a2a" stroke-width="0.9"/>
<line x1="321.70" y1="387.03" x2="323.70" y2="387.03" stroke="#2a2a2a" stroke-width="0.9"/>
<line x1="321.70" y1="383.99" x2="323.70" y2="383.99" stroke="#2a2a2a" stroke-width="0.9"/>
<line x1="320.70" y1="380.95" x2="323.70" y2="380.95" stroke="#2a2a2a" stroke-width="0.9"/>
<text x="317.60" y="383.85" font-size="8.0" fill="#2a2a2a" stroke="#2a2a2a" stroke-width="0.2" text-anchor="end" textLength="17.40" lengthAdjust="spacingAndGlyphs">0.5%</text>
<line x1="321.70" y1="377.91" x2="323.70" y2="377.91" stroke="#2a2a2a" stroke-width="0.9"/>
<line x1="321.70" y1="374.87" x2="323.70" y2="374.87" stroke="#2a2a2a" stroke-width="0.9"/>
<line x1="321.70" y1="371.84" x2="323.70" y2="371.84" stroke="#2a2a2a" stroke-width="0.9"/>
<line x1="321.70" y1="368.80" x2="323.70" y2="368.80" stroke="#2a2a2a" stroke-width="0.9"/>
<line x1="320.70" y1="365.76" x2="323.70" y2="365.76" stroke="#2a2a2a" stroke-width="0.9"/>
<text x="317.60" y="368.66" font-size="8.0" fill="#2a2a2a" stroke="#2a2a2a" stroke-width="0.2" text-anchor="end" textLength="17.40" lengthAdjust="spacingAndGlyphs">0.6%</text>
<line x1="321.70" y1="362.72" x2="323.70" y2="362.72" stroke="#2a2a2a" stroke-width="0.9"/>
<line x1="321.70" y1="359.68" x2="323.70" y2="359.68" stroke="#2a2a2a" stroke-width="0.9"/>
<line x1="321.70" y1="356.65" x2="323.70" y2="356.65" stroke="#2a2a2a" stroke-width="0.9"/>
<line x1="321.70" y1="353.61" x2="323.70" y2="353.61" stroke="#2a2a2a" stroke-width="0.9"/>
<line x1="320.70" y1="350.57" x2="323.70" y2="350.57" stroke="#2a2a2a" stroke-width="0.9"/>
<text x="317.60" y="353.47" font-size="8.0" fill="#2a2a2a" stroke="#2a2a2a" stroke-width="0.2" text-anchor="end" textLength="17.40" lengthAdjust="spacingAndGlyphs">0.7%</text>
<line x1="321.70" y1="347.53" x2="323.70" y2="347.53" stroke="#2a2a2a" stroke-width="0.9"/>
<line x1="321.70" y1="344.49" x2="323.70" y2="344.49" stroke="#2a2a2a" stroke-width="0.9"/>
<line x1="321.70" y1="341.46" x2="323.70" y2="341.46" stroke="#2a2a2a" stroke-width="0.9"/>
<line x1="321.70" y1="338.42" x2="323.70" y2="338.42" stroke="#2a2a2a" stroke-width="0.9"/>
<line x1="320.70" y1="335.38" x2="323.70" y2="335.38" stroke="#2a2a2a" stroke-width="0.9"/>
<text x="317.60" y="338.28" font-size="8.0" fill="#2a2a2a" stroke="#2a2a2a" stroke-width="0.2" text-anchor="end" textLength="17.40" lengthAdjust="spacingAndGlyphs">0.8%</text>
<line x1="326.40" y1="459.80" x2="326.40" y2="462.60" stroke="#2a2a2a" stroke-width="0.9"/>
<text x="326.40" y="472.10" font-size="8.0" fill="#2a2a2a" stroke="#2a2a2a" stroke-width="0.2" text-anchor="middle">6</text>
<line x1="352.62" y1="459.80" x2="352.62" y2="462.60" stroke="#2a2a2a" stroke-width="0.9"/>
<text x="352.62" y="472.10" font-size="8.0" fill="#2a2a2a" stroke="#2a2a2a" stroke-width="0.2" text-anchor="middle">18</text>
<line x1="378.84" y1="459.80" x2="378.84" y2="462.60" stroke="#2a2a2a" stroke-width="0.9"/>
<text x="378.84" y="472.10" font-size="8.0" fill="#2a2a2a" stroke="#2a2a2a" stroke-width="0.2" text-anchor="middle">30</text>
<line x1="405.06" y1="459.80" x2="405.06" y2="462.60" stroke="#2a2a2a" stroke-width="0.9"/>
<text x="405.06" y="472.10" font-size="8.0" fill="#2a2a2a" stroke="#2a2a2a" stroke-width="0.2" text-anchor="middle">42</text>
<line x1="431.28" y1="459.80" x2="431.28" y2="462.60" stroke="#2a2a2a" stroke-width="0.9"/>
<text x="431.28" y="472.10" font-size="8.0" fill="#2a2a2a" stroke="#2a2a2a" stroke-width="0.2" text-anchor="middle">54</text>
<line x1="457.50" y1="459.80" x2="457.50" y2="462.60" stroke="#2a2a2a" stroke-width="0.9"/>
<text x="457.50" y="472.10" font-size="8.0" fill="#2a2a2a" stroke="#2a2a2a" stroke-width="0.2" text-anchor="middle">66</text>
<line x1="483.72" y1="459.80" x2="483.72" y2="462.60" stroke="#2a2a2a" stroke-width="0.9"/>
<text x="483.72" y="472.10" font-size="8.0" fill="#2a2a2a" stroke="#2a2a2a" stroke-width="0.2" text-anchor="middle">78</text>
<line x1="509.94" y1="459.80" x2="509.94" y2="462.60" stroke="#2a2a2a" stroke-width="0.9"/>
<text x="509.94" y="472.10" font-size="8.0" fill="#2a2a2a" stroke="#2a2a2a" stroke-width="0.2" text-anchor="middle">90</text>
<text transform="translate(295.90,395.90) rotate(-90)" x="0" y="0" font-size="9.8" fill="#333" stroke="#333" stroke-width="0.12" text-anchor="middle" textLength="100.70" lengthAdjust="spacingAndGlyphs">Adjusted cumulative incidence</text>
<text x="69.60" y="482.30" font-size="10.3" fill="#3a3a3a" textLength="130.00" lengthAdjust="spacingAndGlyphs">Time since treatment initiation, months</text>
<text x="353.50" y="482.30" font-size="10.3" fill="#3a3a3a" textLength="130.00" lengthAdjust="spacingAndGlyphs">Time since treatment initiation, months</text>
<line x1="86.30" y1="488.50" x2="93.40" y2="488.50" stroke="#c9102f" stroke-width="1.4"/>
<text x="94.60" y="490.70" font-size="7.2" fill="#333" stroke="#333" stroke-width="0.12" textLength="22.50" lengthAdjust="spacingAndGlyphs">DOAC</text>
<line x1="121.20" y1="488.50" x2="128.30" y2="488.50" stroke="#114a88" stroke-width="1.4"/>
<text x="130.00" y="490.70" font-size="7.2" fill="#333" stroke="#333" stroke-width="0.12" textLength="14.80" lengthAdjust="spacingAndGlyphs">VKA</text>
<line x1="370.80" y1="488.50" x2="377.90" y2="488.50" stroke="#c9102f" stroke-width="1.4"/>
<text x="379.00" y="490.70" font-size="7.2" fill="#333" stroke="#333" stroke-width="0.12" textLength="22.00" lengthAdjust="spacingAndGlyphs">DOAC</text>
<line x1="405.40" y1="488.50" x2="412.50" y2="488.50" stroke="#114a88" stroke-width="1.4"/>
<text x="413.70" y="490.70" font-size="7.2" fill="#333" stroke="#333" stroke-width="0.12" textLength="15.10" lengthAdjust="spacingAndGlyphs">VKA</text>
<polygon points="233.1,396.9 273.1,396.9 273.1,390.8 285.8,403.2 273.1,415.8 273.1,409.7 233.1,409.7" fill="#ecb6c1"/>
<text x="234.90" y="405.10" font-size="7.4" fill="#2a2a2a" stroke="#2a2a2a" stroke-width="0.4" textLength="44.30" lengthAdjust="spacingAndGlyphs">IPTW weighting</text>
<polyline points="42.40,457.10 49.50,454.20 56.50,451.90 61.10,450.80 65.70,446.70 70.30,445.00 74.90,442.70 79.50,439.80 84.20,437.50 88.80,435.20 94.50,433.50 101.50,430.40 107.30,428.70 113.10,426.30 118.00,423.60 122.30,419.80 129.20,416.90 133.80,415.20 139.60,413.50 145.40,411.70 150.00,408.80 157.60,405.20 164.20,401.90 170.00,401.00 174.70,398.60 181.00,397.50 185.70,395.50 190.40,392.30 195.10,388.40 199.10,383.70 201.40,378.70 203.80,370.30 206.10,368.00 210.50,366.10" fill="none" stroke="#d41c40" stroke-width="1.2" stroke-linejoin="round" stroke-linecap="round"/>
<polyline points="42.40,457.10 51.80,454.20 61.10,452.50 68.00,451.30 74.90,449.60 80.70,447.90 86.50,445.00 92.20,442.70 94.60,441.70 101.50,438.80 107.30,437.10 113.10,435.40 120.00,433.10 125.80,429.60 131.50,427.30 136.20,425.60 141.90,424.40 145.40,423.30 150.00,420.40 157.00,418.50 164.20,416.20 170.00,415.90 176.30,412.70 182.60,412.00 188.10,410.40 193.60,406.50 199.10,402.50 203.00,399.40 204.60,395.50 208.50,394.40 210.80,393.90" fill="none" stroke="#d41c40" stroke-width="1.2" stroke-linejoin="round" stroke-linecap="round"/>
<polyline points="42.40,457.10 44.90,452.50 49.50,449.00 55.30,445.60 59.90,444.40 65.70,439.20 72.60,434.60 76.10,433.50 80.70,429.80 86.50,427.70 89.90,426.00 94.50,420.80 99.20,417.50 105.00,415.20 110.80,412.90 115.40,410.60 121.20,406.00 125.80,403.70 130.40,400.20 133.80,396.20 137.30,395.00 140.80,392.70 144.20,389.80 147.70,388.10 151.00,385.30 156.50,377.10 160.90,375.30 166.40,369.40 170.00,367.20 174.70,364.10 179.40,363.30 182.60,360.90 188.10,353.80 192.00,352.00 198.30,349.90 204.60,347.30 212.40,342.40" fill="none" stroke="#275e99" stroke-width="1.2" stroke-linejoin="round" stroke-linecap="round"/>
<polyline points="42.40,457.10 48.40,454.00 55.30,451.30 61.10,449.60 66.80,447.30 72.60,445.00 78.40,442.70 84.20,439.80 89.90,438.10 95.80,433.10 101.50,430.20 107.30,428.50 113.10,426.20 120.00,422.70 126.90,419.20 133.80,414.00 139.60,412.30 144.20,408.80 147.70,407.50 153.20,400.80 159.80,396.30 166.40,392.60 170.00,390.80 174.70,388.40 180.20,387.60 184.90,383.70 189.60,380.20 195.10,379.00 201.40,377.10 207.70,375.50 212.70,373.50" fill="none" stroke="#275e99" stroke-width="1.2" stroke-linejoin="round" stroke-linecap="round"/>
<polyline points="42.40,457.10 50.70,454.20 56.50,452.50 63.40,450.80 70.30,449.00 77.20,446.20 81.80,443.80 86.50,442.10 92.20,439.80 95.80,436.50 101.50,434.20 107.30,432.50 113.10,430.80 118.80,429.00 124.60,425.60 130.40,423.30 136.20,420.40 140.80,418.70 145.40,417.50 150.00,414.60 159.80,409.60 166.40,407.40 170.00,408.00 174.70,406.00 181.00,405.40 187.30,404.10 190.40,401.00 195.90,397.80 200.60,392.30 203.00,389.20 204.60,383.70 207.70,382.40 211.10,380.90" fill="none" stroke="#c9102f" stroke-width="1.6" stroke-linejoin="round" stroke-linecap="round"/>
<polyline points="42.40,457.10 47.20,453.10 53.00,450.20 58.80,447.90 63.40,446.20 68.00,443.30 72.60,440.40 77.20,438.10 81.80,435.20 86.50,434.00 91.10,431.70 95.80,427.90 101.50,423.80 107.30,421.50 113.10,418.70 117.70,416.90 122.30,414.00 126.90,411.20 131.50,407.10 136.20,404.80 139.60,403.70 144.20,399.60 147.70,398.50 151.00,394.10 156.50,387.90 160.90,387.10 166.40,382.00 170.00,379.80 174.70,377.10 179.40,376.20 184.10,372.70 188.80,367.70 195.10,365.60 201.40,364.10 207.70,361.70 213.20,359.30" fill="none" stroke="#114a88" stroke-width="1.6" stroke-linejoin="round" stroke-linecap="round"/>
<polyline points="326.40,456.90 333.40,450.90 342.80,446.80 350.90,444.80 359.00,442.80 365.70,439.40 371.10,437.40 377.80,435.40 384.60,432.70 390.00,429.20 396.70,425.20 403.50,420.50 410.20,415.80 416.90,411.00 422.30,409.00 429.00,406.30 434.40,404.30 439.80,402.30 443.80,401.00 449.20,396.90 455.00,395.00 461.20,393.70 466.70,393.70 470.90,391.60 474.40,388.10 479.30,385.30 482.10,379.10 485.60,374.20 487.00,369.30 487.70,363.70 490.40,356.70 494.60,347.70" fill="none" stroke="#d41c40" stroke-width="1.2" stroke-linejoin="round" stroke-linecap="round"/>
<polyline points="326.40,456.90 336.10,454.20 345.50,451.50 353.60,449.50 359.00,448.20 365.70,445.50 371.10,442.10 377.80,440.10 385.90,436.70 390.00,434.60 398.10,431.90 406.20,427.20 414.20,423.20 421.00,420.50 427.70,418.50 435.80,415.80 443.80,413.70 449.20,410.40 454.60,409.00 458.40,409.00 463.90,408.30 470.90,407.00 476.50,404.20 480.70,402.10 484.90,397.20 487.70,394.40 490.40,390.20 494.60,385.30" fill="none" stroke="#d41c40" stroke-width="1.2" stroke-linejoin="round" stroke-linecap="round"/>
<polyline points="326.40,456.90 332.10,451.50 340.20,448.20 346.90,445.50 349.60,442.10 355.00,439.40 359.00,437.40 364.40,432.70 368.40,430.70 372.50,430.00 377.80,426.00 383.20,423.30 388.60,421.90 390.00,421.10 395.40,419.80 400.80,417.80 406.20,415.10 411.50,413.10 416.90,407.00 422.30,405.70 426.30,403.00 431.70,400.30 435.80,396.20 439.80,390.90 443.80,388.20 447.90,386.80 451.90,382.80 455.90,381.40 460.00,379.60 465.30,379.10 468.10,376.30 472.30,372.80 477.90,368.60 483.50,366.50 487.70,365.10 491.80,363.00 496.70,360.90" fill="none" stroke="#275e99" stroke-width="1.2" stroke-linejoin="round" stroke-linecap="round"/>
<polyline points="326.40,456.90 334.80,453.50 342.80,451.50 350.90,448.80 357.60,448.20 364.40,444.80 371.10,440.80 377.80,438.10 384.60,436.00 390.00,433.30 398.10,430.60 406.20,426.50 414.20,421.80 421.00,419.80 427.70,417.10 434.40,411.70 439.80,407.00 445.20,405.00 450.30,401.50 457.00,398.60 463.90,397.20 469.50,393.70 475.10,391.60 480.70,389.50 486.30,388.10 491.80,386.70 496.70,385.30" fill="none" stroke="#275e99" stroke-width="1.2" stroke-linejoin="round" stroke-linecap="round"/>
<polyline points="326.40,456.90 334.80,452.90 344.20,449.50 350.90,448.20 357.60,446.10 364.40,443.50 369.80,439.40 377.80,436.70 384.60,434.70 390.00,431.20 398.10,427.90 406.20,423.20 412.90,419.80 419.60,415.80 425.00,414.40 430.40,411.70 435.80,410.40 441.10,407.70 446.50,405.00 451.90,403.60 457.00,402.10 463.90,400.70 470.90,398.60 475.10,395.80 479.30,394.40 482.10,390.20 486.30,384.60 487.70,379.10 491.80,372.10 495.30,365.80" fill="none" stroke="#c9102f" stroke-width="1.6" stroke-linejoin="round" stroke-linecap="round"/>
<polyline points="326.40,456.90 334.80,451.50 342.80,448.80 349.60,446.10 356.30,442.10 363.00,438.10 369.80,435.40 375.10,433.40 380.50,430.70 387.30,428.60 390.00,427.90 396.70,425.20 403.50,421.80 410.20,418.50 416.90,414.40 422.30,411.70 427.70,409.00 433.10,406.30 437.10,403.60 441.10,398.30 445.20,396.20 449.20,393.60 454.60,390.90 457.00,389.50 464.00,388.10 468.10,386.00 472.30,381.80 477.90,379.10 483.50,377.70 489.10,376.30 493.20,374.90 497.40,373.20" fill="none" stroke="#114a88" stroke-width="1.6" stroke-linejoin="round" stroke-linecap="round"/>
<text x="16.10" y="504.60" font-size="8.2" fill="#222" textLength="45.00" lengthAdjust="spacingAndGlyphs" stroke="#222" stroke-width="0.15">Number at risk</text>
<text x="16.10" y="539.70" font-size="6.3" fill="#222" textLength="66.20" lengthAdjust="spacingAndGlyphs" stroke="#222" stroke-width="0.1">Number of outcome events</text>
<text x="83.80" y="539.70" font-size="6.3" fill="#444" textLength="109.20" lengthAdjust="spacingAndGlyphs">(numbers summed over the indicated periods)</text>
<text x="20.70" y="513.60" font-size="6.9" fill="#2a2a2a" textLength="18.50" lengthAdjust="spacingAndGlyphs">Month</text>
<text x="20.70" y="523.10" font-size="6.9" fill="#2a2a2a" textLength="12.30" lengthAdjust="spacingAndGlyphs">VKA</text>
<text x="20.70" y="531.60" font-size="6.9" fill="#2a2a2a" textLength="18.40" lengthAdjust="spacingAndGlyphs">DOAC</text>
<text x="20.70" y="549.40" font-size="6.9" fill="#2a2a2a" textLength="21.80" lengthAdjust="spacingAndGlyphs">Months</text>
<text x="20.70" y="557.60" font-size="6.9" fill="#2a2a2a" textLength="12.30" lengthAdjust="spacingAndGlyphs">VKA</text>
<text x="20.70" y="566.10" font-size="6.9" fill="#2a2a2a" textLength="18.40" lengthAdjust="spacingAndGlyphs">DOAC</text>
<text x="61.60" y="513.60" font-size="6.9" fill="#2a2a2a" stroke="#2a2a2a" stroke-width="0.12" text-anchor="middle" textLength="3.80" lengthAdjust="spacingAndGlyphs">7</text>
<text x="71.20" y="523.10" font-size="6.9" fill="#2a2a2a" stroke="#2a2a2a" stroke-width="0.12" text-anchor="end" textLength="19.30" lengthAdjust="spacingAndGlyphs">45,225</text>
<text x="71.20" y="531.60" font-size="6.9" fill="#2a2a2a" stroke="#2a2a2a" stroke-width="0.12" text-anchor="end" textLength="19.30" lengthAdjust="spacingAndGlyphs">82,993</text>
<text x="61.60" y="549.40" font-size="6.9" fill="#2a2a2a" stroke="#2a2a2a" stroke-width="0.12" text-anchor="middle" textLength="14.00" lengthAdjust="spacingAndGlyphs">7–18</text>
<text x="61.60" y="557.60" font-size="6.9" fill="#2a2a2a" stroke="#2a2a2a" stroke-width="0.12" text-anchor="middle" textLength="7.40" lengthAdjust="spacingAndGlyphs">40</text>
<text x="61.60" y="566.10" font-size="6.9" fill="#2a2a2a" stroke="#2a2a2a" stroke-width="0.12" text-anchor="middle" textLength="7.40" lengthAdjust="spacingAndGlyphs">45</text>
<text x="88.10" y="513.60" font-size="6.9" fill="#2a2a2a" stroke="#2a2a2a" stroke-width="0.12" text-anchor="middle" textLength="7.40" lengthAdjust="spacingAndGlyphs">19</text>
<text x="97.70" y="523.10" font-size="6.9" fill="#2a2a2a" stroke="#2a2a2a" stroke-width="0.12" text-anchor="end" textLength="19.30" lengthAdjust="spacingAndGlyphs">41,664</text>
<text x="97.70" y="531.60" font-size="6.9" fill="#2a2a2a" stroke="#2a2a2a" stroke-width="0.12" text-anchor="end" textLength="19.30" lengthAdjust="spacingAndGlyphs">78,811</text>
<text x="88.10" y="549.40" font-size="6.9" fill="#2a2a2a" stroke="#2a2a2a" stroke-width="0.12" text-anchor="middle" textLength="16.60" lengthAdjust="spacingAndGlyphs">19–30</text>
<text x="88.10" y="557.60" font-size="6.9" fill="#2a2a2a" stroke="#2a2a2a" stroke-width="0.12" text-anchor="middle" textLength="7.40" lengthAdjust="spacingAndGlyphs">38</text>
<text x="88.10" y="566.10" font-size="6.9" fill="#2a2a2a" stroke="#2a2a2a" stroke-width="0.12" text-anchor="middle" textLength="7.40" lengthAdjust="spacingAndGlyphs">54</text>
<text x="114.40" y="513.60" font-size="6.9" fill="#2a2a2a" stroke="#2a2a2a" stroke-width="0.12" text-anchor="middle" textLength="7.40" lengthAdjust="spacingAndGlyphs">31</text>
<text x="124.00" y="523.10" font-size="6.9" fill="#2a2a2a" stroke="#2a2a2a" stroke-width="0.12" text-anchor="end" textLength="19.30" lengthAdjust="spacingAndGlyphs">38,356</text>
<text x="124.00" y="531.60" font-size="6.9" fill="#2a2a2a" stroke="#2a2a2a" stroke-width="0.12" text-anchor="end" textLength="19.30" lengthAdjust="spacingAndGlyphs">74,476</text>
<text x="114.40" y="549.40" font-size="6.9" fill="#2a2a2a" stroke="#2a2a2a" stroke-width="0.12" text-anchor="middle" textLength="16.60" lengthAdjust="spacingAndGlyphs">31–42</text>
<text x="114.40" y="557.60" font-size="6.9" fill="#2a2a2a" stroke="#2a2a2a" stroke-width="0.12" text-anchor="middle" textLength="7.40" lengthAdjust="spacingAndGlyphs">35</text>
<text x="114.40" y="566.10" font-size="6.9" fill="#2a2a2a" stroke="#2a2a2a" stroke-width="0.12" text-anchor="middle" textLength="7.40" lengthAdjust="spacingAndGlyphs">48</text>
<text x="140.60" y="513.60" font-size="6.9" fill="#2a2a2a" stroke="#2a2a2a" stroke-width="0.12" text-anchor="middle" textLength="7.40" lengthAdjust="spacingAndGlyphs">43</text>
<text x="150.20" y="523.10" font-size="6.9" fill="#2a2a2a" stroke="#2a2a2a" stroke-width="0.12" text-anchor="end" textLength="19.30" lengthAdjust="spacingAndGlyphs">33,395</text>
<text x="150.20" y="531.60" font-size="6.9" fill="#2a2a2a" stroke="#2a2a2a" stroke-width="0.12" text-anchor="end" textLength="19.30" lengthAdjust="spacingAndGlyphs">57,879</text>
<text x="140.60" y="549.40" font-size="6.9" fill="#2a2a2a" stroke="#2a2a2a" stroke-width="0.12" text-anchor="middle" textLength="16.60" lengthAdjust="spacingAndGlyphs">43–54</text>
<text x="140.60" y="557.60" font-size="6.9" fill="#2a2a2a" stroke="#2a2a2a" stroke-width="0.12" text-anchor="middle" textLength="7.40" lengthAdjust="spacingAndGlyphs">30</text>
<text x="140.60" y="566.10" font-size="6.9" fill="#2a2a2a" stroke="#2a2a2a" stroke-width="0.12" text-anchor="middle" textLength="7.40" lengthAdjust="spacingAndGlyphs">36</text>
<text x="166.90" y="513.60" font-size="6.9" fill="#2a2a2a" stroke="#2a2a2a" stroke-width="0.12" text-anchor="middle" textLength="7.40" lengthAdjust="spacingAndGlyphs">55</text>
<text x="176.50" y="523.10" font-size="6.9" fill="#2a2a2a" stroke="#2a2a2a" stroke-width="0.12" text-anchor="end" textLength="19.30" lengthAdjust="spacingAndGlyphs">26,147</text>
<text x="176.50" y="531.60" font-size="6.9" fill="#2a2a2a" stroke="#2a2a2a" stroke-width="0.12" text-anchor="end" textLength="19.30" lengthAdjust="spacingAndGlyphs">37,712</text>
<text x="166.90" y="549.40" font-size="6.9" fill="#2a2a2a" stroke="#2a2a2a" stroke-width="0.12" text-anchor="middle" textLength="16.60" lengthAdjust="spacingAndGlyphs">55–66</text>
<text x="166.90" y="557.60" font-size="6.9" fill="#2a2a2a" stroke="#2a2a2a" stroke-width="0.12" text-anchor="middle" textLength="7.40" lengthAdjust="spacingAndGlyphs">32</text>
<text x="166.90" y="566.10" font-size="6.9" fill="#2a2a2a" stroke="#2a2a2a" stroke-width="0.12" text-anchor="middle" textLength="7.40" lengthAdjust="spacingAndGlyphs">18</text>
<text x="193.10" y="513.60" font-size="6.9" fill="#2a2a2a" stroke="#2a2a2a" stroke-width="0.12" text-anchor="middle" textLength="7.40" lengthAdjust="spacingAndGlyphs">67</text>
<text x="202.70" y="523.10" font-size="6.9" fill="#2a2a2a" stroke="#2a2a2a" stroke-width="0.12" text-anchor="end" textLength="19.30" lengthAdjust="spacingAndGlyphs">17,933</text>
<text x="202.70" y="531.60" font-size="6.9" fill="#2a2a2a" stroke="#2a2a2a" stroke-width="0.12" text-anchor="end" textLength="19.30" lengthAdjust="spacingAndGlyphs">22,157</text>
<text x="193.10" y="549.40" font-size="6.9" fill="#2a2a2a" stroke="#2a2a2a" stroke-width="0.12" text-anchor="middle" textLength="16.60" lengthAdjust="spacingAndGlyphs">67–78</text>
<text x="193.10" y="557.60" font-size="6.9" fill="#2a2a2a" stroke="#2a2a2a" stroke-width="0.12" text-anchor="middle" textLength="7.40" lengthAdjust="spacingAndGlyphs">11</text>
<text x="193.10" y="566.10" font-size="6.9" fill="#2a2a2a" stroke="#2a2a2a" stroke-width="0.12" text-anchor="middle" textLength="7.40" lengthAdjust="spacingAndGlyphs">14</text>
<text x="219.80" y="513.60" font-size="6.9" fill="#2a2a2a" stroke="#2a2a2a" stroke-width="0.12" text-anchor="middle" textLength="7.40" lengthAdjust="spacingAndGlyphs">79</text>
<text x="229.40" y="523.10" font-size="6.9" fill="#2a2a2a" stroke="#2a2a2a" stroke-width="0.12" text-anchor="end" textLength="15.90" lengthAdjust="spacingAndGlyphs">9,782</text>
<text x="229.40" y="531.60" font-size="6.9" fill="#2a2a2a" stroke="#2a2a2a" stroke-width="0.12" text-anchor="end" textLength="19.30" lengthAdjust="spacingAndGlyphs">10,188</text>
<text x="219.80" y="549.40" font-size="6.9" fill="#2a2a2a" stroke="#2a2a2a" stroke-width="0.12" text-anchor="middle" textLength="16.60" lengthAdjust="spacingAndGlyphs">79–84</text>
<text x="219.80" y="557.60" font-size="6.9" fill="#2a2a2a" stroke="#2a2a2a" stroke-width="0.12" text-anchor="middle" textLength="3.80" lengthAdjust="spacingAndGlyphs">4</text>
<text x="219.80" y="566.10" font-size="6.9" fill="#2a2a2a" stroke="#2a2a2a" stroke-width="0.12" text-anchor="middle" textLength="3.80" lengthAdjust="spacingAndGlyphs">6</text>
<text x="292.50" y="513.60" font-size="6.9" fill="#2a2a2a" textLength="18.50" lengthAdjust="spacingAndGlyphs">Month</text>
<text x="292.50" y="523.10" font-size="6.9" fill="#2a2a2a" textLength="12.30" lengthAdjust="spacingAndGlyphs">VKA</text>
<text x="292.50" y="531.60" font-size="6.9" fill="#2a2a2a" textLength="18.40" lengthAdjust="spacingAndGlyphs">DOAC</text>
<text x="292.50" y="549.40" font-size="6.9" fill="#2a2a2a" textLength="21.80" lengthAdjust="spacingAndGlyphs">Months</text>
<text x="292.50" y="557.60" font-size="6.9" fill="#2a2a2a" textLength="12.30" lengthAdjust="spacingAndGlyphs">VKA</text>
<text x="292.50" y="566.10" font-size="6.9" fill="#2a2a2a" textLength="18.40" lengthAdjust="spacingAndGlyphs">DOAC</text>
<text x="332.10" y="513.60" font-size="6.9" fill="#2a2a2a" stroke="#2a2a2a" stroke-width="0.12" text-anchor="middle" textLength="3.80" lengthAdjust="spacingAndGlyphs">7</text>
<text x="341.70" y="523.10" font-size="6.9" fill="#2a2a2a" stroke="#2a2a2a" stroke-width="0.12" text-anchor="end" textLength="19.30" lengthAdjust="spacingAndGlyphs">44,654</text>
<text x="341.70" y="531.60" font-size="6.9" fill="#2a2a2a" stroke="#2a2a2a" stroke-width="0.12" text-anchor="end" textLength="19.30" lengthAdjust="spacingAndGlyphs">83,542</text>
<text x="332.10" y="549.40" font-size="6.9" fill="#2a2a2a" stroke="#2a2a2a" stroke-width="0.12" text-anchor="middle" textLength="14.00" lengthAdjust="spacingAndGlyphs">7–18</text>
<text x="332.10" y="557.60" font-size="6.9" fill="#2a2a2a" stroke="#2a2a2a" stroke-width="0.12" text-anchor="middle" textLength="12.20" lengthAdjust="spacingAndGlyphs">32.0</text>
<text x="332.10" y="566.10" font-size="6.9" fill="#2a2a2a" stroke="#2a2a2a" stroke-width="0.12" text-anchor="middle" textLength="12.20" lengthAdjust="spacingAndGlyphs">53.5</text>
<text x="358.20" y="513.60" font-size="6.9" fill="#2a2a2a" stroke="#2a2a2a" stroke-width="0.12" text-anchor="middle" textLength="7.40" lengthAdjust="spacingAndGlyphs">19</text>
<text x="367.80" y="523.10" font-size="6.9" fill="#2a2a2a" stroke="#2a2a2a" stroke-width="0.12" text-anchor="end" textLength="19.30" lengthAdjust="spacingAndGlyphs">41,620</text>
<text x="367.80" y="531.60" font-size="6.9" fill="#2a2a2a" stroke="#2a2a2a" stroke-width="0.12" text-anchor="end" textLength="19.30" lengthAdjust="spacingAndGlyphs">78,818</text>
<text x="358.20" y="549.40" font-size="6.9" fill="#2a2a2a" stroke="#2a2a2a" stroke-width="0.12" text-anchor="middle" textLength="16.60" lengthAdjust="spacingAndGlyphs">19–30</text>
<text x="358.20" y="557.60" font-size="6.9" fill="#2a2a2a" stroke="#2a2a2a" stroke-width="0.12" text-anchor="middle" textLength="12.20" lengthAdjust="spacingAndGlyphs">36.2</text>
<text x="358.20" y="566.10" font-size="6.9" fill="#2a2a2a" stroke="#2a2a2a" stroke-width="0.12" text-anchor="middle" textLength="12.20" lengthAdjust="spacingAndGlyphs">52.8</text>
<text x="384.40" y="513.60" font-size="6.9" fill="#2a2a2a" stroke="#2a2a2a" stroke-width="0.12" text-anchor="middle" textLength="7.40" lengthAdjust="spacingAndGlyphs">31</text>
<text x="394.00" y="523.10" font-size="6.9" fill="#2a2a2a" stroke="#2a2a2a" stroke-width="0.12" text-anchor="end" textLength="19.30" lengthAdjust="spacingAndGlyphs">38,684</text>
<text x="394.00" y="531.60" font-size="6.9" fill="#2a2a2a" stroke="#2a2a2a" stroke-width="0.12" text-anchor="end" textLength="19.30" lengthAdjust="spacingAndGlyphs">73,997</text>
<text x="384.40" y="549.40" font-size="6.9" fill="#2a2a2a" stroke="#2a2a2a" stroke-width="0.12" text-anchor="middle" textLength="16.60" lengthAdjust="spacingAndGlyphs">31–42</text>
<text x="384.40" y="557.60" font-size="6.9" fill="#2a2a2a" stroke="#2a2a2a" stroke-width="0.12" text-anchor="middle" textLength="12.20" lengthAdjust="spacingAndGlyphs">23.5</text>
<text x="384.40" y="566.10" font-size="6.9" fill="#2a2a2a" stroke="#2a2a2a" stroke-width="0.12" text-anchor="middle" textLength="12.20" lengthAdjust="spacingAndGlyphs">56.1</text>
<text x="410.80" y="513.60" font-size="6.9" fill="#2a2a2a" stroke="#2a2a2a" stroke-width="0.12" text-anchor="middle" textLength="7.40" lengthAdjust="spacingAndGlyphs">43</text>
<text x="420.40" y="523.10" font-size="6.9" fill="#2a2a2a" stroke="#2a2a2a" stroke-width="0.12" text-anchor="end" textLength="19.30" lengthAdjust="spacingAndGlyphs">31,954</text>
<text x="420.40" y="531.60" font-size="6.9" fill="#2a2a2a" stroke="#2a2a2a" stroke-width="0.12" text-anchor="end" textLength="19.30" lengthAdjust="spacingAndGlyphs">59,937</text>
<text x="410.80" y="549.40" font-size="6.9" fill="#2a2a2a" stroke="#2a2a2a" stroke-width="0.12" text-anchor="middle" textLength="16.60" lengthAdjust="spacingAndGlyphs">43–54</text>
<text x="410.80" y="557.60" font-size="6.9" fill="#2a2a2a" stroke="#2a2a2a" stroke-width="0.12" text-anchor="middle" textLength="12.20" lengthAdjust="spacingAndGlyphs">24.8</text>
<text x="410.80" y="566.10" font-size="6.9" fill="#2a2a2a" stroke="#2a2a2a" stroke-width="0.12" text-anchor="middle" textLength="12.20" lengthAdjust="spacingAndGlyphs">40.8</text>
<text x="437.10" y="513.60" font-size="6.9" fill="#2a2a2a" stroke="#2a2a2a" stroke-width="0.12" text-anchor="middle" textLength="7.40" lengthAdjust="spacingAndGlyphs">55</text>
<text x="446.70" y="523.10" font-size="6.9" fill="#2a2a2a" stroke="#2a2a2a" stroke-width="0.12" text-anchor="end" textLength="19.30" lengthAdjust="spacingAndGlyphs">22,389</text>
<text x="446.70" y="531.60" font-size="6.9" fill="#2a2a2a" stroke="#2a2a2a" stroke-width="0.12" text-anchor="end" textLength="19.30" lengthAdjust="spacingAndGlyphs">41,970</text>
<text x="437.10" y="549.40" font-size="6.9" fill="#2a2a2a" stroke="#2a2a2a" stroke-width="0.12" text-anchor="middle" textLength="16.60" lengthAdjust="spacingAndGlyphs">55–66</text>
<text x="437.10" y="557.60" font-size="6.9" fill="#2a2a2a" stroke="#2a2a2a" stroke-width="0.12" text-anchor="middle" textLength="12.20" lengthAdjust="spacingAndGlyphs">23.0</text>
<text x="437.10" y="566.10" font-size="6.9" fill="#2a2a2a" stroke="#2a2a2a" stroke-width="0.12" text-anchor="middle" textLength="12.20" lengthAdjust="spacingAndGlyphs">21.8</text>
<text x="463.40" y="513.60" font-size="6.9" fill="#2a2a2a" stroke="#2a2a2a" stroke-width="0.12" text-anchor="middle" textLength="7.40" lengthAdjust="spacingAndGlyphs">67</text>
<text x="473.00" y="523.10" font-size="6.9" fill="#2a2a2a" stroke="#2a2a2a" stroke-width="0.12" text-anchor="end" textLength="19.30" lengthAdjust="spacingAndGlyphs">14,162</text>
<text x="473.00" y="531.60" font-size="6.9" fill="#2a2a2a" stroke="#2a2a2a" stroke-width="0.12" text-anchor="end" textLength="19.30" lengthAdjust="spacingAndGlyphs">26,336</text>
<text x="463.40" y="549.40" font-size="6.9" fill="#2a2a2a" stroke="#2a2a2a" stroke-width="0.12" text-anchor="middle" textLength="16.60" lengthAdjust="spacingAndGlyphs">67–78</text>
<text x="463.40" y="557.60" font-size="6.9" fill="#2a2a2a" stroke="#2a2a2a" stroke-width="0.12" text-anchor="middle" textLength="8.20" lengthAdjust="spacingAndGlyphs">7.1</text>
<text x="463.40" y="566.10" font-size="6.9" fill="#2a2a2a" stroke="#2a2a2a" stroke-width="0.12" text-anchor="middle" textLength="12.20" lengthAdjust="spacingAndGlyphs">19.1</text>
<text x="489.60" y="513.60" font-size="6.9" fill="#2a2a2a" stroke="#2a2a2a" stroke-width="0.12" text-anchor="middle" textLength="7.40" lengthAdjust="spacingAndGlyphs">79</text>
<text x="499.20" y="523.10" font-size="6.9" fill="#2a2a2a" stroke="#2a2a2a" stroke-width="0.12" text-anchor="end" textLength="15.90" lengthAdjust="spacingAndGlyphs">6,688</text>
<text x="499.20" y="531.60" font-size="6.9" fill="#2a2a2a" stroke="#2a2a2a" stroke-width="0.12" text-anchor="end" textLength="19.30" lengthAdjust="spacingAndGlyphs">13,786</text>
<text x="489.60" y="549.40" font-size="6.9" fill="#2a2a2a" stroke="#2a2a2a" stroke-width="0.12" text-anchor="middle" textLength="16.60" lengthAdjust="spacingAndGlyphs">79–84</text>
<text x="489.60" y="557.60" font-size="6.9" fill="#2a2a2a" stroke="#2a2a2a" stroke-width="0.12" text-anchor="middle" textLength="8.20" lengthAdjust="spacingAndGlyphs">2.3</text>
<text x="489.60" y="566.10" font-size="6.9" fill="#2a2a2a" stroke="#2a2a2a" stroke-width="0.12" text-anchor="middle" textLength="12.20" lengthAdjust="spacingAndGlyphs">14.0</text>
</svg>
</body></html>
